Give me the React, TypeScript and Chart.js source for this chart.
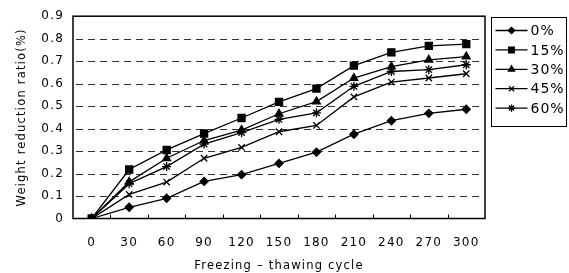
import React, { useEffect, useRef } from 'react';
import { Chart, registerables } from 'chart.js';
import { drawPoint } from 'chart.js/helpers';

Chart.register(...registerables);

const cycles = ['0', '30', '60', '90', '120', '150', '180', '210', '240', '270', '300'];
const labels = ['0%', '15%', '30%', '45%', '60%'];
const s0 = [0, 0.05, 0.09, 0.165, 0.195, 0.245, 0.295, 0.375, 0.435, 0.468, 0.486];
const s15 = [0, 0.218, 0.305, 0.378, 0.447, 0.519, 0.578, 0.68, 0.739, 0.768, 0.776];
const s30 = [0, 0.163, 0.268, 0.347, 0.393, 0.466, 0.52, 0.625, 0.676, 0.706, 0.72];
const s45 = [0, 0.107, 0.162, 0.268, 0.316, 0.386, 0.414, 0.541, 0.607, 0.625, 0.644];
const s60 = [0, 0.155, 0.231, 0.331, 0.382, 0.441, 0.47, 0.588, 0.654, 0.662, 0.684];
const yTicks = [0, 0.1, 0.2, 0.3, 0.4, 0.5, 0.6, 0.7, 0.8, 0.9];

const seriesValues = [s0, s15, s30, s45, s60];
const pointStyles = ['rectRot', 'rect', 'triangle', 'crossRot', 'star'];
const pointRadii = [4, 5, 4.5, 4.5, 4.5];

const FONT = 'DejaVu Sans';

const framePlugin = {
  id: 'frame',
  beforeDraw(chart: any) {
    chart.ctx.letterSpacing = '1.2px';
  },
  beforeDatasetsDraw(chart: any) {
    const { ctx, chartArea } = chart;
    const ys = chart.scales.y;
    ctx.save();
    ctx.strokeStyle = '#333';
    ctx.lineWidth = 1;
    yTicks.forEach((v) => {
      if (v === 0 || v === 0.9) return;
      const y = Math.round(ys.getPixelForValue(v)) + 0.5;
      ctx.beginPath();
      for (let x = chartArea.left + 3; x < chartArea.right - 2; x += 12) {
        ctx.moveTo(x, y);
        ctx.lineTo(Math.min(x + 7, chartArea.right - 2), y);
      }
      ctx.stroke();
    });
    ctx.restore();
  },
  afterDatasetsDraw(chart: any) {
    const { ctx, chartArea } = chart;
    const xs = chart.scales.x;
    ctx.save();
    ctx.letterSpacing = '0px';
    ctx.strokeStyle = '#000';
    ctx.lineWidth = 1.5;
    ctx.strokeRect(chartArea.left, chartArea.top, chartArea.right - chartArea.left, chartArea.bottom - chartArea.top);
    ctx.lineWidth = 1;
    const n = cycles.length;
    const step = (xs.right - xs.left) / n;
    for (let i = 1; i < n; i++) {
      const x = Math.round(xs.left + i * step) + 0.5;
      ctx.beginPath();
      ctx.moveTo(x, chartArea.bottom);
      ctx.lineTo(x, chartArea.bottom - 4);
      ctx.stroke();
    }
    ctx.restore();
  },
  afterDraw(chart: any) {
    const { ctx, chartArea } = chart;
    const left = Math.round(chartArea.right) + 6.5;
    const top = Math.round(chartArea.top) + 1.5;
    const w = 75;
    const h = 109;
    ctx.save();
    ctx.letterSpacing = '1px';
    ctx.strokeStyle = '#000';
    ctx.lineWidth = 1;
    ctx.strokeRect(left, top, w, h);
    chart.data.datasets.forEach((ds: any, i: number) => {
      const y = top + 13 + i * 19.4;
      ctx.beginPath();
      ctx.lineWidth = 1.3;
      ctx.moveTo(left + 4, y);
      ctx.lineTo(left + 36, y);
      ctx.stroke();
      ctx.fillStyle = '#000';
      drawPoint(ctx, { pointStyle: ds.pointStyle, radius: ds.pointRadius * 0.8, borderWidth: 1.2, rotation: 0 }, left + 20, y);
      ctx.font = `14px "${FONT}"`;
      ctx.textBaseline = 'middle';
      ctx.textAlign = 'left';
      ctx.fillText(ds.label, left + 39, y + 1);
    });
    ctx.restore();
  },
};

export default function App() {
  const ref = useRef<HTMLCanvasElement | null>(null);
  useEffect(() => {
    document.body.style.margin = '0';
    const canvas = ref.current!;
    const chart = new Chart(canvas, {
      type: 'line',
      data: {
        labels: cycles,
        datasets: seriesValues.map((vals, i) => ({
          label: labels[i],
          data: vals,
          borderColor: '#000',
          backgroundColor: '#000',
          borderWidth: 1.3,
          pointStyle: pointStyles[i] as any,
          pointRadius: pointRadii[i],
          pointBorderWidth: 1.3,
          pointBackgroundColor: '#000',
          pointBorderColor: '#000',
          tension: 0,
          fill: false,
        })),
      },
      options: {
        animation: false,
        responsive: false,
        devicePixelRatio: 1,
        layout: { padding: { left: 0, right: 84, top: 10, bottom: 0 } },
        plugins: { legend: { display: false }, tooltip: { enabled: false } },
        scales: {
          x: {
            type: 'category',
            offset: true,
            grid: { display: false },
            border: { display: false },
            ticks: { color: '#000', font: { family: FONT, size: 12 }, padding: 9, maxRotation: 0 },
            title: { display: true, text: 'Freezing – thawing cycle', color: '#000', font: { family: FONT, size: 11.5 }, padding: { top: 5, bottom: 0 } },
            afterFit(scale: any) { scale.height = 54.5; },
          },
          y: {
            min: 0,
            max: 0.9,
            afterBuildTicks(scale: any) { scale.ticks = yTicks.map((v) => ({ value: v })); },
            grid: { display: false, drawTicks: false },
            border: { display: false },
            ticks: { color: '#000', font: { family: FONT, size: 12 }, padding: 9, callback: (v: any) => String(Math.round(Number(v) * 10) / 10) },
            title: { display: true, text: 'Weight reduction ratio(%)', color: '#000', font: { family: FONT, size: 11.5 }, padding: { top: 15, bottom: 4 } },
            afterFit(scale: any) { scale.width = 73; },
          },
        },
      },
      plugins: [framePlugin],
    });
    return () => chart.destroy();
  }, []);
  return (
    <div style={{ width: 569, height: 273 }}>
      <canvas ref={ref} width={569} height={273} style={{ display: 'block' }} />
    </div>
  );
}
